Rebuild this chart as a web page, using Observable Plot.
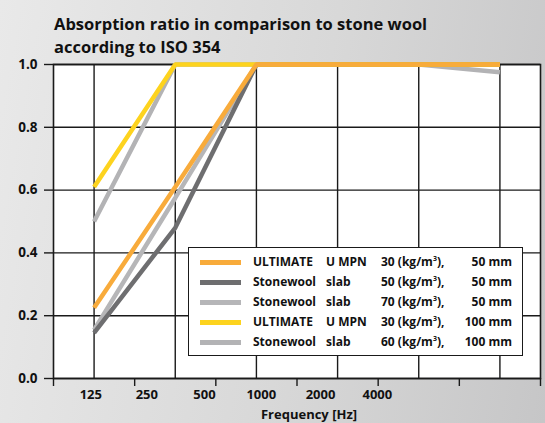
<!DOCTYPE html>
<html>
<head>
<meta charset="utf-8">
<script src="https://cdn.jsdelivr.net/npm/d3@7"></script>
<script src="https://cdn.jsdelivr.net/npm/@observablehq/plot@0.6"></script>
<style>
  html, body { margin: 0; padding: 0; background: #fff; }
  #wrap {
    position: relative; width: 545px; height: 423px; overflow: hidden;
    background: linear-gradient(100deg, #e9e9e9 0%, #d8d8d8 55%, #c6c6c7 100%);
    font-family: "Open Sans", sans-serif;
  }
  #title {
    height: 50px; box-sizing: border-box; padding: 12px 0 0 54px;
    font-weight: 700; font-size: 16.5px; line-height: 23px; color: #111;
    white-space: nowrap;
  }
  #legend {
    position: absolute; left: 188px; top: 247px; width: 335px; height: 109px;
    box-sizing: border-box; background: #fff; border: 1.5px solid #1a1a1a;
    padding-top: 4px; font-weight: 700; font-size: 12px; color: #111;
  }
  .row { position: relative; height: 20px; line-height: 20px; }
  .row span { position: absolute; top: 0; white-space: nowrap; }
  .sw { position: absolute; left: 11px; top: 8px; width: 41px; height: 4.5px; }
  .sup { font-size: 7px; }
</style>
</head>
<body>
<div id="wrap">
  <div id="title">Absorption ratio in comparison to stone wool<br>according to ISO 354</div>
  <div id="chart"></div>
  <div id="legend"></div>
</div>
<script>
// ---- data ----
const freqs = ["125", "250", "500", "1000", "2000", "4000"];
const yTicks = [0, 0.2, 0.4, 0.6, 0.8, 1.0];
// position of the printed frequency labels (in band units, as drawn in the source)
const freqLabelPos = [0.46, 1.15, 1.86, 2.56, 3.29, 3.99];

const seriesNames = ["ULTIMATE U MPN 30, 50 mm", "Stonewool slab 50, 50 mm", "Stonewool slab 70, 50 mm", "ULTIMATE U MPN 30, 100 mm", "Stonewool slab 60, 100 mm"];
const col1 = ["ULTIMATE", "Stonewool", "Stonewool", "ULTIMATE", "Stonewool"];
const col2 = ["U MPN", "slab", "slab", "U MPN", "slab"];
const col3 = ["30", "50", "70", "30", "60"];
const col4 = ["50 mm", "50 mm", "50 mm", "100 mm", "100 mm"];
const colors = ["#f8ab3b", "#6e6e70", "#b6b6b8", "#fdd31e", "#b3b3b5"];

const ultimate50 = [0.225, 0.61, 1.0, 1.0, 1.0, 1.0];
const stone50 = [0.145, 0.48, 1.0, 1.0, 1.0, 1.0];
const stone70 = [0.155, 0.575, 1.0, 1.0, 1.0, 1.0];
const ultimate100 = [0.61, 1.0, 1.0, 1.0, 1.0, 1.0];
const stone60 = [0.5, 1.0, 1.0, 1.0, 1.0, 0.975];
const values = [ultimate50, stone50, stone70, ultimate100, stone60];

// ---- build table ----
const drawOrder = [4, 2, 1, 3, 0];
const rows = [];
for (const s of drawOrder) {
  values[s].forEach((v, i) => rows.push({series: seriesNames[s], xi: i + 0.5, freq: freqs[i], v}));
}
const bandCenters = freqs.map((f, i) => i + 0.5);
const bandEdges = d3.range(freqs.length + 1);

const font = "'Open Sans', sans-serif";
const chart = Plot.plot({
  width: 545, height: 373,
  marginLeft: 53, marginRight: 5, marginTop: 14, marginBottom: 45,
  style: {background: "transparent", fontFamily: font, color: "#111"},
  x: {type: "linear", domain: [0, freqs.length], axis: null},
  y: {domain: [0, 1], axis: null},
  color: {domain: seriesNames, range: colors},
  marks: [
    Plot.frame({fill: "white", stroke: null}),
    Plot.ruleY(yTicks, {stroke: "#1a1a1a", strokeWidth: 1.4}),
    Plot.ruleX(bandCenters, {stroke: "#1a1a1a", strokeWidth: 1.4}),
    Plot.frame({stroke: "#1a1a1a", strokeWidth: 1.6}),
    Plot.line(rows, {x: "xi", y: "v", z: "series", stroke: "series", strokeWidth: 4.5, strokeLinejoin: "miter", strokeLinecap: "butt"}),
    Plot.axisY({ticks: yTicks, tickSize: 9, tickPadding: 7, tickFormat: d3.format(".1f"), fontSize: 13.5, fontWeight: "bold", stroke: "#1a1a1a", strokeWidth: 1.4, label: null}),
    Plot.axisX({ticks: bandEdges, tickSize: 8, tickFormat: () => "", stroke: "#1a1a1a", strokeWidth: 1.4, label: null}),
    Plot.axisX({ticks: freqLabelPos, tickSize: 0, tickPadding: 11, tickFormat: d => freqs[freqLabelPos.indexOf(d)], fontSize: 13, fontWeight: "bold", label: null}),
    Plot.text(["Frequency [Hz]"], {frameAnchor: "bottom", dx: 12, dy: 40, fontSize: 13, fontWeight: "bold", fill: "#111"})
  ]
});
document.getElementById("chart").appendChild(chart);

// ---- legend ----
const leg = document.getElementById("legend");
seriesNames.forEach((n, i) => {
  const r = document.createElement("div");
  r.className = "row";
  r.innerHTML = `<div class="sw" style="background:${colors[i]}"></div>` +
    `<span style="left:64px">${col1[i]}</span>` +
    `<span style="left:137px">${col2[i]}</span>` +
    `<span style="left:192px">${col3[i]} (kg/m<span class="sup" style="position:relative;top:-5px">3</span>),</span>` +
    `<span style="right:10px">${col4[i]}</span>`;
  leg.appendChild(r);
});
</script>
</body>
</html>
